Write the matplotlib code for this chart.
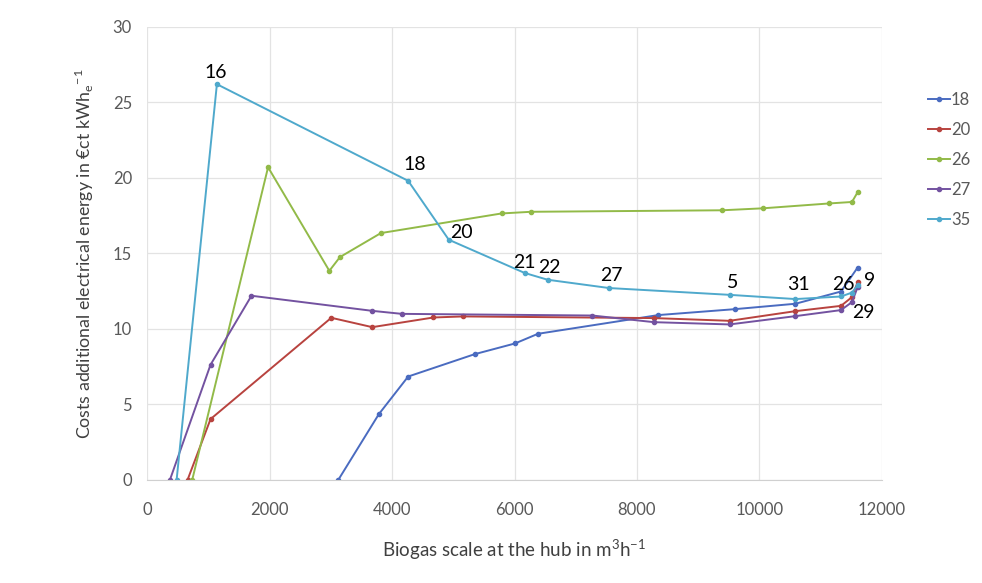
import numpy as np
import matplotlib
matplotlib.use('Agg')
from matplotlib import pyplot as plt

plt.rcParams['font.family'] = ['Lato', 'DejaVu Sans']
plt.rcParams['mathtext.fontset'] = 'custom'
plt.rcParams['mathtext.rm'] = 'Lato'

# series data (x = biogas scale, y = costs)
x18 = [3121, 3783, 4262, 5348, 6007, 6382, 8348, 9594, 10589, 11333, 11605]
y18 = [0, 4.35, 6.84, 8.32, 9.03, 9.67, 10.91, 11.30, 11.66, 12.47, 14.06]

x20 = [658, 1033, 3006, 3675, 4675, 5158, 8278, 9512, 10589, 11333, 11512, 11605]
y20 = [0, 4.02, 10.73, 10.11, 10.75, 10.82, 10.71, 10.53, 11.17, 11.52, 12.10, 13.09]

x26 = [734, 1973, 2974, 3147, 3816, 5788, 6268, 9392, 10055, 11132, 11512, 11605]
y26 = [0, 20.7, 13.84, 14.75, 16.34, 17.64, 17.75, 17.85, 17.98, 18.3, 18.4, 19.05]

x27 = [370, 1033, 1702, 3675, 4158, 7272, 8278, 9512, 10589, 11333, 11512, 11605]
y27 = [0, 7.62, 12.19, 11.19, 10.99, 10.88, 10.44, 10.29, 10.84, 11.24, 11.77, 12.76]

x35 = [479, 1137, 4262, 4925, 6164, 6540, 7545, 9512, 10589, 11333, 11513, 11605]
y35 = [0, 26.2, 19.8, 15.9, 13.7, 13.25, 12.7, 12.25, 11.97, 12.14, 12.4, 12.9]

series_names = ['18', '20', '26', '27', '35']
colors = ['#4A6BC0', '#B8433F', '#92BA48', '#7352A0', '#4FA9CC']

# point labels on the chart
label_text = ['16', '18', '20', '21', '22', '27', '5', '31', '26', '9', '29']
label_x = [1123, 4366, 5130, 6160, 6566, 7582, 9566, 10631, 11365, 11800, 11702]
label_y = [27.0, 20.86, 16.4, 14.4, 14.06, 13.5, 13.09, 12.91, 12.91, 13.2, 11.1]

fig = plt.figure(figsize=(9.82, 5.83), dpi=100)
ax = fig.add_axes([0.15, 0.177, 0.748, 0.777])

xs = [x18, x20, x26, x27, x35]
ys = [y18, y20, y26, y27, y35]
for x, y, name, c in zip(xs, ys, series_names, colors):
    ax.plot(x, y, color=c, lw=1.4, marker='o', ms=3, label=name)

for t, lx, ly in zip(label_text, label_x, label_y):
    ax.text(lx, ly, t, ha='center', va='center', fontsize=14, color='black')

ax.set_xlim(0, 12000)
ax.set_ylim(0, 30)
ax.set_xticks(np.arange(0, 12001, 2000))
ax.set_yticks(np.arange(0, 31, 5))
ax.grid(True, color='#e3e3e3', lw=0.9)
ax.set_axisbelow(True)
for s in ['top', 'right', 'left']:
    ax.spines[s].set_visible(False)
ax.spines['bottom'].set_color('#d0d0d0')
ax.tick_params(length=0, labelsize=12, colors='#595959')
ax.tick_params(axis='x', pad=16)
ax.tick_params(axis='y', pad=11)

ax.set_xlabel(r'Biogas scale at the hub in m$^\mathregular{3}$h$^\mathregular{-1}$',
              fontsize=13.5, color='#404040', labelpad=14)
ax.set_ylabel(r'Costs additional electrical energy in €ct kWh$_\mathregular{e}$$^\mathregular{-1}$',
              fontsize=12.8, color='#404040', labelpad=12)

leg = ax.legend(loc='center left', bbox_to_anchor=(1.043, 0.706), frameon=False,
                fontsize=12, handlelength=1.3, labelspacing=0.85, handletextpad=0.05)
for txt in leg.get_texts():
    txt.set_color('#595959')

plt.savefig('out.png', dpi=100)
